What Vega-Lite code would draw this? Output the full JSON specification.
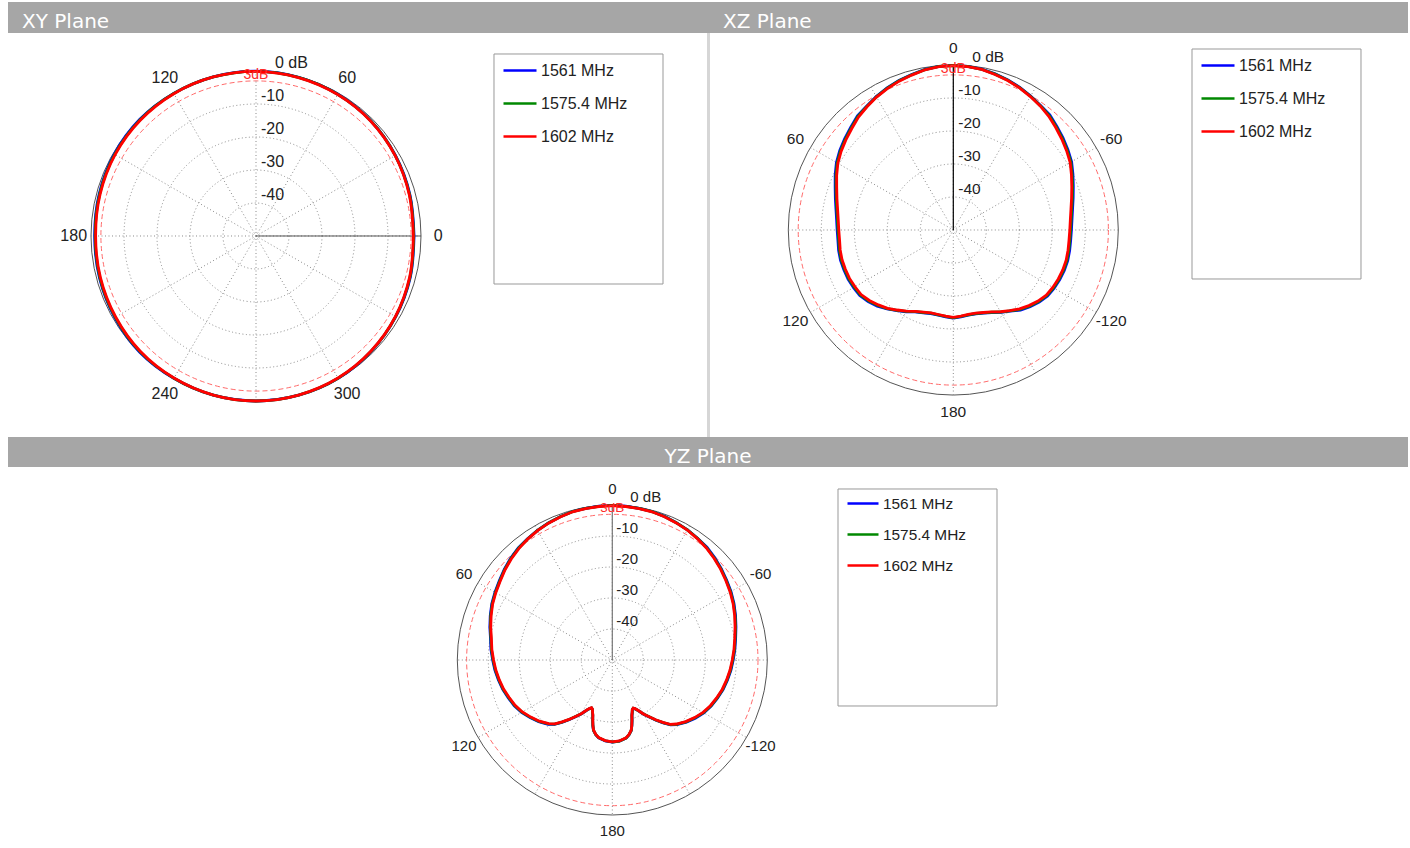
{
"$schema": "https://vega.github.io/schema/vega-lite/v6.json",
"background": "white",
"padding": {"left": 8, "top": 2, "right": 0, "bottom": 0},
"spacing": 0,
"config": {"view": {"stroke": null}, "font": "Liberation Sans"},
"resolve": {"scale": {"x": "independent", "y": "independent", "color": "independent", "size": "independent"}, "legend": {"color": "independent"}},
"datasets": {
"xy": [
{"deg":0,"r":-2.3,"g":-2.2,"b":-2.1},{"deg":15,"r":-1.9,"g":-1.8,"b":-1.7},{"deg":30,"r":-1.3,"g":-1.25,"b":-1.2},{"deg":45,"r":-0.8,"g":-0.75,"b":-0.7},{"deg":60,"r":-0.5,"g":-0.45,"b":-0.4},{"deg":75,"r":-0.3,"g":-0.25,"b":-0.2},{"deg":90,"r":-0.1,"g":-0.1,"b":-0.05},{"deg":105,"r":-0.1,"g":-0.1,"b":-0.05},{"deg":120,"r":-0.2,"g":-0.15,"b":-0.1},{"deg":135,"r":-0.4,"g":-0.25,"b":-0.1},{"deg":150,"r":-0.7,"g":-0.55,"b":-0.4},{"deg":165,"r":-1.1,"g":-0.95,"b":-0.8},{"deg":180,"r":-1.4,"g":-1.25,"b":-1.1},{"deg":195,"r":-1.2,"g":-1.05,"b":-0.9},{"deg":210,"r":-0.9,"g":-0.75,"b":-0.6},{"deg":225,"r":-0.5,"g":-0.35,"b":-0.2},{"deg":240,"r":-0.3,"g":-0.25,"b":-0.2},{"deg":255,"r":-0.1,"g":-0.1,"b":-0.05},{"deg":270,"r":0,"g":0,"b":0},{"deg":285,"r":-0.1,"g":-0.1,"b":-0.05},{"deg":300,"r":-0.3,"g":-0.25,"b":-0.2},{"deg":315,"r":-0.7,"g":-0.65,"b":-0.6},{"deg":330,"r":-1.2,"g":-1.15,"b":-1.1},{"deg":345,"r":-1.8,"g":-1.7,"b":-1.6},{"deg":360,"r":-2.3,"g":-2.2,"b":-2.1}
],
"xz": [
{"deg":-180,"r":-23.5,"g":-23.4,"b":-23.3},{"deg":-175,"r":-23.8,"g":-23.7,"b":-23.6},{"deg":-170,"r":-24.0,"g":-23.9,"b":-23.8},{"deg":-165,"r":-23.9,"g":-23.8,"b":-23.7},{"deg":-160,"r":-23.4,"g":-23.3,"b":-23.2},{"deg":-155,"r":-22.6,"g":-22.5,"b":-22.4},{"deg":-150,"r":-21.4,"g":-21.3,"b":-21.2},{"deg":-145,"r":-20.2,"g":-20.1,"b":-20.0},{"deg":-140,"r":-18.8,"g":-18.55,"b":-18.3},{"deg":-135,"r":-17.6,"g":-17.35,"b":-17.1},{"deg":-130,"r":-16.5,"g":-16.25,"b":-16.0},{"deg":-125,"r":-15.6,"g":-15.35,"b":-15.1},{"deg":-120,"r":-15.2,"g":-14.95,"b":-14.7},{"deg":-115,"r":-14.9,"g":-14.65,"b":-14.4},{"deg":-110,"r":-14.7,"g":-14.45,"b":-14.2},{"deg":-105,"r":-14.6,"g":-14.35,"b":-14.1},{"deg":-100,"r":-14.7,"g":-14.45,"b":-14.2},{"deg":-95,"r":-14.8,"g":-14.55,"b":-14.3},{"deg":-90,"r":-14.7,"g":-14.45,"b":-14.2},{"deg":-85,"r":-14.4,"g":-14.15,"b":-13.9},{"deg":-80,"r":-13.8,"g":-13.55,"b":-13.3},{"deg":-75,"r":-12.9,"g":-12.65,"b":-12.4},{"deg":-70,"r":-11.8,"g":-11.55,"b":-11.3},{"deg":-65,"r":-10.5,"g":-10.25,"b":-10.0},{"deg":-60,"r":-9.1,"g":-8.85,"b":-8.6},{"deg":-55,"r":-8.1,"g":-7.85,"b":-7.6},{"deg":-50,"r":-7.1,"g":-6.85,"b":-6.6},{"deg":-45,"r":-6.1,"g":-5.85,"b":-5.6},{"deg":-40,"r":-5.0,"g":-4.75,"b":-4.5},{"deg":-35,"r":-4.1,"g":-4.0,"b":-3.9},{"deg":-30,"r":-3.3,"g":-3.2,"b":-3.1},{"deg":-25,"r":-2.5,"g":-2.4,"b":-2.3},{"deg":-20,"r":-1.8,"g":-1.7,"b":-1.6},{"deg":-15,"r":-1.2,"g":-1.1,"b":-1.0},{"deg":-10,"r":-0.6,"g":-0.55,"b":-0.5},{"deg":-5,"r":-0.3,"g":-0.25,"b":-0.2},{"deg":0,"r":-0.2,"g":-0.15,"b":-0.1},{"deg":5,"r":-0.3,"g":-0.25,"b":-0.2},{"deg":10,"r":-0.7,"g":-0.65,"b":-0.6},{"deg":15,"r":-1.4,"g":-1.3,"b":-1.2},{"deg":20,"r":-2.0,"g":-1.9,"b":-1.8},{"deg":25,"r":-2.7,"g":-2.6,"b":-2.5},{"deg":30,"r":-3.5,"g":-3.4,"b":-3.3},{"deg":35,"r":-4.4,"g":-4.3,"b":-4.2},{"deg":40,"r":-5.3,"g":-5.05,"b":-4.8},{"deg":45,"r":-6.5,"g":-6.25,"b":-6.0},{"deg":50,"r":-7.5,"g":-7.25,"b":-7.0},{"deg":55,"r":-8.5,"g":-8.25,"b":-8.0},{"deg":60,"r":-9.6,"g":-9.35,"b":-9.1},{"deg":65,"r":-11.0,"g":-10.75,"b":-10.5},{"deg":70,"r":-12.4,"g":-12.15,"b":-11.9},{"deg":75,"r":-13.5,"g":-13.25,"b":-13.0},{"deg":80,"r":-14.4,"g":-14.15,"b":-13.9},{"deg":85,"r":-15.0,"g":-14.75,"b":-14.5},{"deg":90,"r":-15.3,"g":-15.05,"b":-14.8},{"deg":95,"r":-15.4,"g":-15.15,"b":-14.9},{"deg":100,"r":-15.2,"g":-14.95,"b":-14.7},{"deg":105,"r":-15.1,"g":-14.85,"b":-14.6},{"deg":110,"r":-15.2,"g":-14.95,"b":-14.7},{"deg":115,"r":-15.3,"g":-15.05,"b":-14.8},{"deg":120,"r":-15.6,"g":-15.35,"b":-15.1},{"deg":125,"r":-15.9,"g":-15.65,"b":-15.4},{"deg":130,"r":-16.8,"g":-16.55,"b":-16.3},{"deg":135,"r":-17.9,"g":-17.65,"b":-17.4},{"deg":140,"r":-19.0,"g":-18.9,"b":-18.8},{"deg":145,"r":-20.4,"g":-20.3,"b":-20.2},{"deg":150,"r":-21.6,"g":-21.5,"b":-21.4},{"deg":155,"r":-22.8,"g":-22.7,"b":-22.6},{"deg":160,"r":-23.5,"g":-23.4,"b":-23.3},{"deg":165,"r":-24.0,"g":-23.9,"b":-23.8},{"deg":170,"r":-24.0,"g":-23.9,"b":-23.8},{"deg":175,"r":-23.8,"g":-23.7,"b":-23.6},{"deg":180,"r":-23.5,"g":-23.4,"b":-23.3}
],
"yz": [
{"deg":-180,"r":-23.6,"g":-23.55,"b":-23.5},{"deg":-175,"r":-23.8,"g":-23.75,"b":-23.7},{"deg":-170,"r":-24.5,"g":-24.45,"b":-24.4},{"deg":-167.5,"r":-25.3,"g":-25.25,"b":-25.2},{"deg":-165,"r":-26.5,"g":-26.45,"b":-26.4},{"deg":-163.5,"r":-27.9,"g":-27.85,"b":-27.8},{"deg":-162,"r":-29.5,"g":-29.45,"b":-29.4},{"deg":-160.5,"r":-31.1,"g":-31.05,"b":-31.0},{"deg":-159,"r":-32.1,"g":-32.05,"b":-32.0},{"deg":-158,"r":-32.8,"g":-32.75,"b":-32.7},{"deg":-156.5,"r":-33.1,"g":-33.05,"b":-33.0},{"deg":-155,"r":-32.7,"g":-32.65,"b":-32.6},{"deg":-153,"r":-31.8,"g":-31.75,"b":-31.7},{"deg":-150,"r":-29.9,"g":-29.85,"b":-29.8},{"deg":-147,"r":-28.2,"g":-28.15,"b":-28.1},{"deg":-144,"r":-26.2,"g":-26.1,"b":-26.0},{"deg":-141,"r":-24.1,"g":-24.0,"b":-23.9},{"deg":-138,"r":-22.1,"g":-22.0,"b":-21.9},{"deg":-135,"r":-20.8,"g":-20.65,"b":-20.5},{"deg":-130,"r":-19.1,"g":-18.95,"b":-18.8},{"deg":-125,"r":-17.6,"g":-17.45,"b":-17.3},{"deg":-120,"r":-16.2,"g":-16.05,"b":-15.9},{"deg":-115,"r":-15.1,"g":-14.95,"b":-14.8},{"deg":-110,"r":-14.2,"g":-14.05,"b":-13.9},{"deg":-105,"r":-13.3,"g":-13.15,"b":-13.0},{"deg":-100,"r":-12.6,"g":-12.45,"b":-12.3},{"deg":-95,"r":-11.9,"g":-11.75,"b":-11.6},{"deg":-90,"r":-11.3,"g":-11.15,"b":-11.0},{"deg":-85,"r":-10.6,"g":-10.45,"b":-10.3},{"deg":-80,"r":-9.9,"g":-9.75,"b":-9.6},{"deg":-75,"r":-9.0,"g":-8.85,"b":-8.7},{"deg":-70,"r":-8.0,"g":-7.85,"b":-7.7},{"deg":-65,"r":-7.0,"g":-6.85,"b":-6.7},{"deg":-60,"r":-6.1,"g":-5.95,"b":-5.8},{"deg":-55,"r":-5.3,"g":-5.15,"b":-5.0},{"deg":-50,"r":-4.4,"g":-4.25,"b":-4.1},{"deg":-45,"r":-3.6,"g":-3.45,"b":-3.3},{"deg":-40,"r":-2.8,"g":-2.65,"b":-2.5},{"deg":-35,"r":-2.2,"g":-2.1,"b":-2.05},{"deg":-30,"r":-1.6,"g":-1.55,"b":-1.5},{"deg":-25,"r":-1.2,"g":-1.15,"b":-1.1},{"deg":-20,"r":-0.8,"g":-0.75,"b":-0.7},{"deg":-15,"r":-0.5,"g":-0.45,"b":-0.4},{"deg":-10,"r":-0.4,"g":-0.35,"b":-0.3},{"deg":-5,"r":-0.3,"g":-0.25,"b":-0.2},{"deg":0,"r":-0.2,"g":-0.15,"b":-0.1},{"deg":5,"r":-0.3,"g":-0.25,"b":-0.2},{"deg":10,"r":-0.4,"g":-0.35,"b":-0.3},{"deg":15,"r":-0.5,"g":-0.45,"b":-0.4},{"deg":20,"r":-0.9,"g":-0.85,"b":-0.8},{"deg":25,"r":-1.3,"g":-1.25,"b":-1.2},{"deg":30,"r":-1.8,"g":-1.75,"b":-1.7},{"deg":35,"r":-2.4,"g":-2.35,"b":-2.3},{"deg":40,"r":-3.1,"g":-2.95,"b":-2.8},{"deg":45,"r":-3.9,"g":-3.75,"b":-3.6},{"deg":50,"r":-4.8,"g":-4.65,"b":-4.5},{"deg":55,"r":-5.8,"g":-5.65,"b":-5.5},{"deg":60,"r":-6.6,"g":-6.45,"b":-6.3},{"deg":65,"r":-7.4,"g":-7.25,"b":-7.1},{"deg":70,"r":-8.4,"g":-8.25,"b":-8.1},{"deg":75,"r":-9.4,"g":-9.25,"b":-9.1},{"deg":80,"r":-10.4,"g":-10.25,"b":-10.1},{"deg":85,"r":-11.0,"g":-10.85,"b":-10.7},{"deg":90,"r":-11.7,"g":-11.55,"b":-11.4},{"deg":95,"r":-12.3,"g":-12.15,"b":-12.0},{"deg":100,"r":-13.0,"g":-12.85,"b":-12.7},{"deg":105,"r":-13.7,"g":-13.55,"b":-13.4},{"deg":110,"r":-14.6,"g":-14.45,"b":-14.3},{"deg":115,"r":-15.4,"g":-15.25,"b":-15.1},{"deg":120,"r":-16.5,"g":-16.35,"b":-16.2},{"deg":125,"r":-17.9,"g":-17.75,"b":-17.6},{"deg":130,"r":-19.3,"g":-19.15,"b":-19.0},{"deg":135,"r":-21.0,"g":-20.85,"b":-20.7},{"deg":138,"r":-22.3,"g":-22.2,"b":-22.1},{"deg":141,"r":-24.3,"g":-24.2,"b":-24.1},{"deg":144,"r":-26.3,"g":-26.25,"b":-26.2},{"deg":147,"r":-28.3,"g":-28.25,"b":-28.2},{"deg":150,"r":-30.0,"g":-29.95,"b":-29.9},{"deg":153,"r":-31.9,"g":-31.85,"b":-31.8},{"deg":155,"r":-32.8,"g":-32.75,"b":-32.7},{"deg":156.5,"r":-33.2,"g":-33.15,"b":-33.1},{"deg":158,"r":-32.9,"g":-32.85,"b":-32.8},{"deg":159,"r":-32.2,"g":-32.15,"b":-32.1},{"deg":160.5,"r":-31.2,"g":-31.15,"b":-31.1},{"deg":162,"r":-29.6,"g":-29.55,"b":-29.5},{"deg":163.5,"r":-28.0,"g":-27.95,"b":-27.9},{"deg":165,"r":-26.6,"g":-26.55,"b":-26.5},{"deg":167.5,"r":-25.4,"g":-25.35,"b":-25.3},{"deg":170,"r":-24.6,"g":-24.55,"b":-24.5},{"deg":175,"r":-23.9,"g":-23.85,"b":-23.8},{"deg":180,"r":-23.6,"g":-23.55,"b":-23.5}
],
"rings": [{"db": -40}, {"db": -30}, {"db": -20}, {"db": -10}],
"spokes": [{"deg": 0}, {"deg": 30}, {"deg": 60}, {"deg": 90}, {"deg": 120}, {"deg": 150}]
},
"vconcat": [
{
"hconcat": [
{"width": 699, "height": 31, "view": {"fill": "#a6a6a6", "stroke": null},
 "data": {"values": [{"t": "XY Plane"}]},
 "mark": {"type": "text", "align": "left", "baseline": "alphabetic", "dx": 14, "dy": 10, "font": "DejaVu Sans", "fontSize": 20, "color": "white"},
 "encoding": {"text": {"field": "t", "type": "nominal"}, "x": {"datum": 0, "type": "quantitative", "scale": {"domain": [0, 1]}, "axis": null}}},
{"width": 701, "height": 31, "view": {"fill": "#a6a6a6", "stroke": null},
 "data": {"values": [{"t": "XZ Plane"}]},
 "mark": {"type": "text", "align": "left", "baseline": "alphabetic", "dx": 16, "dy": 10, "font": "DejaVu Sans", "fontSize": 20, "color": "white"},
 "encoding": {"text": {"field": "t", "type": "nominal"}, "x": {"datum": 0, "type": "quantitative", "scale": {"domain": [0, 1]}, "axis": null}}}
],
"spacing": 0,
"resolve": {"scale": {"x": "independent", "y": "independent"}}
},
{
"hconcat": [
{
"width": 699, "height": 404,
"layer": [
{"data": {"name": "rings"},
 "transform": [{"calculate": "(datum.db+50)/50", "as": "lv"}],
 "mark": {"type": "point", "shape": "circle", "filled": false, "opacity": 1, "stroke": "#8a8a8a", "strokeWidth": 1, "strokeDash": [1, 2.5]},
 "encoding": {"x": {"datum": 0, "type": "quantitative", "scale": {"domain": [-1.50303, 2.73333], "nice": false, "zero": false}, "axis": null},
  "y": {"datum": 0, "type": "quantitative", "scale": {"domain": [-1.21818, 1.2303], "nice": false, "zero": false}, "axis": null},
  "size": {"field": "lv", "type": "quantitative", "scale": {"type": "pow", "exponent": 2, "domain": [0, 1], "range": [0, 108900]}, "legend": null}}},
{"data": {"values": [{"db": 0}]},
 "transform": [{"calculate": "(datum.db+50)/50", "as": "lv"}],
 "mark": {"type": "point", "shape": "circle", "filled": false, "opacity": 1, "stroke": "#555555", "strokeWidth": 1},
 "encoding": {"x": {"datum": 0, "type": "quantitative", "scale": {"domain": [-1.50303, 2.73333], "nice": false, "zero": false}, "axis": null},
  "y": {"datum": 0, "type": "quantitative", "scale": {"domain": [-1.21818, 1.2303], "nice": false, "zero": false}, "axis": null},
  "size": {"field": "lv", "type": "quantitative", "scale": {"type": "pow", "exponent": 2, "domain": [0, 1], "range": [0, 108900]}, "legend": null}}},
{"data": {"values": [{"db": -3}]},
 "transform": [{"calculate": "(datum.db+50)/50", "as": "lv"}],
 "mark": {"type": "point", "shape": "circle", "filled": false, "opacity": 1, "stroke": "#ff6a6a", "strokeWidth": 1, "strokeDash": [5, 3]},
 "encoding": {"x": {"datum": 0, "type": "quantitative", "scale": {"domain": [-1.50303, 2.73333], "nice": false, "zero": false}, "axis": null},
  "y": {"datum": 0, "type": "quantitative", "scale": {"domain": [-1.21818, 1.2303], "nice": false, "zero": false}, "axis": null},
  "size": {"field": "lv", "type": "quantitative", "scale": {"type": "pow", "exponent": 2, "domain": [0, 1], "range": [0, 108900]}, "legend": null}}},
{"data": {"name": "spokes"},
 "transform": [{"calculate": "cos(datum.deg*PI/180)", "as": "ex"}, {"calculate": "sin(datum.deg*PI/180)", "as": "ey"}, {"calculate": "-datum.ex", "as": "nx"}, {"calculate": "-datum.ey", "as": "ny"}],
 "mark": {"type": "rule", "stroke": "#8a8a8a", "strokeWidth": 1, "strokeDash": [1, 2.5]},
 "encoding": {"x": {"field": "ex", "type": "quantitative", "scale": {"domain": [-1.50303, 2.73333], "nice": false, "zero": false}, "axis": null},
  "y": {"field": "ey", "type": "quantitative", "scale": {"domain": [-1.21818, 1.2303], "nice": false, "zero": false}, "axis": null},
  "x2": {"field": "nx"}, "y2": {"field": "ny"}}},
{"data": {"values": [{"x0": 0, "x1": 1, "y0": 0}]},
 "mark": {"type": "rule", "stroke": "#555555", "strokeWidth": 1},
 "encoding": {"x": {"field": "x0", "type": "quantitative", "scale": {"domain": [-1.50303, 2.73333], "nice": false, "zero": false}, "axis": null},
  "x2": {"field": "x1"},
  "y": {"field": "y0", "type": "quantitative", "scale": {"domain": [-1.21818, 1.2303], "nice": false, "zero": false}, "axis": null}}},
{"data": {"values": [{"x0": 1.44242, "x1": 2.46667, "y0": 1.10303, "y1": -0.29091}]},
 "mark": {"type": "rect", "fill": "white", "stroke": "#999999", "strokeWidth": 1},
 "encoding": {"x": {"field": "x0", "type": "quantitative", "scale": {"domain": [-1.50303, 2.73333], "nice": false, "zero": false}, "axis": null},
  "x2": {"field": "x1"},
  "y": {"field": "y0", "type": "quantitative", "scale": {"domain": [-1.21818, 1.2303], "nice": false, "zero": false}, "axis": null},
  "y2": {"field": "y1"}}},
{"data": {"name": "xy"},
 "transform": [{"fold": ["b", "g", "r"], "as": ["freq", "db"]},
  {"calculate": "max(0,(datum.db+50)/50)", "as": "rr"},
  {"calculate": "datum.rr*cos(datum.deg*PI/180)", "as": "px"},
  {"calculate": "datum.rr*sin(datum.deg*PI/180)", "as": "py"}],
 "mark": {"type": "line", "strokeWidth": 2.8, "interpolate": "catmull-rom"},
 "encoding": {"x": {"field": "px", "type": "quantitative", "scale": {"domain": [-1.50303, 2.73333], "nice": false, "zero": false}, "axis": null},
  "y": {"field": "py", "type": "quantitative", "scale": {"domain": [-1.21818, 1.2303], "nice": false, "zero": false}, "axis": null},
  "order": {"field": "deg", "type": "quantitative"},
  "color": {"field": "freq", "type": "nominal", "scale": {"domain": ["b", "g", "r"], "range": ["#0000ff", "#008800", "#ff0000"]},
   "legend": {"orient": "none", "legendX": 494, "legendY": 19.5, "title": null, "symbolType": "stroke", "symbolSize": 1089, "symbolStrokeWidth": 2.5, "labelFontSize": 16, "labelFont": "Liberation Sans", "labelColor": "#222222", "rowPadding": 7, "labelOffset": 3, "padding": 0,
    "labelExpr": "datum.label == 'b' ? '1561 MHz' : datum.label == 'g' ? '1575.4 MHz' : '1602 MHz'"}}}},
{"data": {"values": [{"deg": 0, "t": "0"}, {"deg": 60, "t": "60"}, {"deg": 120, "t": "120"}, {"deg": 180, "t": "180"}, {"deg": 240, "t": "240"}, {"deg": 300, "t": "300"}]},
 "transform": [{"calculate": "1.105*cos(datum.deg*PI/180)", "as": "lx"}, {"calculate": "1.105*sin(datum.deg*PI/180)", "as": "ly"}],
 "mark": {"type": "text", "fontSize": 16, "color": "#222222", "align": "center", "baseline": "middle"},
 "encoding": {"x": {"field": "lx", "type": "quantitative", "scale": {"domain": [-1.50303, 2.73333], "nice": false, "zero": false}, "axis": null},
  "y": {"field": "ly", "type": "quantitative", "scale": {"domain": [-1.21818, 1.2303], "nice": false, "zero": false}, "axis": null},
  "text": {"field": "t", "type": "nominal"}}},
{"data": {"values": [{"db": -10, "t": "-10"}, {"db": -20, "t": "-20"}, {"db": -30, "t": "-30"}, {"db": -40, "t": "-40"}]},
 "transform": [{"calculate": "(datum.db+50)/50", "as": "ry"}, {"calculate": "0", "as": "cx"}],
 "mark": {"type": "text", "fontSize": 16, "color": "#222222", "align": "left", "baseline": "bottom", "dx": 5},
 "encoding": {"x": {"field": "cx", "type": "quantitative", "scale": {"domain": [-1.50303, 2.73333], "nice": false, "zero": false}, "axis": null},
  "y": {"field": "ry", "type": "quantitative", "scale": {"domain": [-1.21818, 1.2303], "nice": false, "zero": false}, "axis": null},
  "text": {"field": "t", "type": "nominal"}}},
{"data": {"values": [{"db": 0, "t": "0 dB"}]},
 "transform": [{"calculate": "(datum.db+50)/50", "as": "ry"}, {"calculate": "0", "as": "cx"}],
 "mark": {"type": "text", "fontSize": 16, "color": "#222222", "align": "left", "baseline": "bottom", "dx": 19},
 "encoding": {"x": {"field": "cx", "type": "quantitative", "scale": {"domain": [-1.50303, 2.73333], "nice": false, "zero": false}, "axis": null},
  "y": {"field": "ry", "type": "quantitative", "scale": {"domain": [-1.21818, 1.2303], "nice": false, "zero": false}, "axis": null},
  "text": {"field": "t", "type": "nominal"}}},
{"data": {"values": [{"db": -3, "t": "3dB"}]},
 "transform": [{"calculate": "(datum.db+50)/50", "as": "ry"}, {"calculate": "0", "as": "cx"}],
 "mark": {"type": "text", "fontSize": 14, "color": "#ff2a2a", "align": "center", "baseline": "bottom", "dy": 1},
 "encoding": {"x": {"field": "cx", "type": "quantitative", "scale": {"domain": [-1.50303, 2.73333], "nice": false, "zero": false}, "axis": null},
  "y": {"field": "ry", "type": "quantitative", "scale": {"domain": [-1.21818, 1.2303], "nice": false, "zero": false}, "axis": null},
  "text": {"field": "t", "type": "nominal"}}}
]
},
{"width": 3, "height": 404, "view": {"fill": "#d6d6d6", "stroke": null},
 "data": {"values": [{"t": ""}]}, "mark": {"type": "text", "opacity": 0}, "encoding": {"text": {"field": "t", "type": "nominal"}}},
{
"width": 698, "height": 404,
"layer": [
{"data": {"name": "rings"},
 "transform": [{"calculate": "(datum.db+50)/50", "as": "lv"}],
 "mark": {"type": "point", "shape": "circle", "filled": false, "opacity": 1, "stroke": "#8a8a8a", "strokeWidth": 1, "strokeDash": [1, 2.5]},
 "encoding": {"x": {"datum": 0, "type": "quantitative", "scale": {"domain": [-1.47455, 2.75576], "nice": false, "zero": false}, "axis": null},
  "y": {"datum": 0, "type": "quantitative", "scale": {"domain": [-1.25455, 1.19394], "nice": false, "zero": false}, "axis": null},
  "size": {"field": "lv", "type": "quantitative", "scale": {"type": "pow", "exponent": 2, "domain": [0, 1], "range": [0, 108900]}, "legend": null}}},
{"data": {"values": [{"db": 0}]},
 "transform": [{"calculate": "(datum.db+50)/50", "as": "lv"}],
 "mark": {"type": "point", "shape": "circle", "filled": false, "opacity": 1, "stroke": "#555555", "strokeWidth": 1},
 "encoding": {"x": {"datum": 0, "type": "quantitative", "scale": {"domain": [-1.47455, 2.75576], "nice": false, "zero": false}, "axis": null},
  "y": {"datum": 0, "type": "quantitative", "scale": {"domain": [-1.25455, 1.19394], "nice": false, "zero": false}, "axis": null},
  "size": {"field": "lv", "type": "quantitative", "scale": {"type": "pow", "exponent": 2, "domain": [0, 1], "range": [0, 108900]}, "legend": null}}},
{"data": {"values": [{"db": -3}]},
 "transform": [{"calculate": "(datum.db+50)/50", "as": "lv"}],
 "mark": {"type": "point", "shape": "circle", "filled": false, "opacity": 1, "stroke": "#ff6a6a", "strokeWidth": 1, "strokeDash": [5, 3]},
 "encoding": {"x": {"datum": 0, "type": "quantitative", "scale": {"domain": [-1.47455, 2.75576], "nice": false, "zero": false}, "axis": null},
  "y": {"datum": 0, "type": "quantitative", "scale": {"domain": [-1.25455, 1.19394], "nice": false, "zero": false}, "axis": null},
  "size": {"field": "lv", "type": "quantitative", "scale": {"type": "pow", "exponent": 2, "domain": [0, 1], "range": [0, 108900]}, "legend": null}}},
{"data": {"name": "spokes"},
 "transform": [{"calculate": "cos(datum.deg*PI/180)", "as": "ex"}, {"calculate": "sin(datum.deg*PI/180)", "as": "ey"}, {"calculate": "-datum.ex", "as": "nx"}, {"calculate": "-datum.ey", "as": "ny"}],
 "mark": {"type": "rule", "stroke": "#8a8a8a", "strokeWidth": 1, "strokeDash": [1, 2.5]},
 "encoding": {"x": {"field": "ex", "type": "quantitative", "scale": {"domain": [-1.47455, 2.75576], "nice": false, "zero": false}, "axis": null},
  "y": {"field": "ey", "type": "quantitative", "scale": {"domain": [-1.25455, 1.19394], "nice": false, "zero": false}, "axis": null},
  "x2": {"field": "nx"}, "y2": {"field": "ny"}}},
{"data": {"values": [{"x0": 0, "y0": 0, "y1": 1}]},
 "mark": {"type": "rule", "stroke": "#000000", "strokeWidth": 1.2},
 "encoding": {"x": {"field": "x0", "type": "quantitative", "scale": {"domain": [-1.47455, 2.75576], "nice": false, "zero": false}, "axis": null},
  "y": {"field": "y0", "type": "quantitative", "scale": {"domain": [-1.25455, 1.19394], "nice": false, "zero": false}, "axis": null},
  "y2": {"field": "y1"}}},
{"data": {"values": [{"x0": 1.44667, "x1": 2.47091, "y0": 1.09697, "y1": -0.29697}]},
 "mark": {"type": "rect", "fill": "white", "stroke": "#999999", "strokeWidth": 1},
 "encoding": {"x": {"field": "x0", "type": "quantitative", "scale": {"domain": [-1.47455, 2.75576], "nice": false, "zero": false}, "axis": null},
  "x2": {"field": "x1"},
  "y": {"field": "y0", "type": "quantitative", "scale": {"domain": [-1.25455, 1.19394], "nice": false, "zero": false}, "axis": null},
  "y2": {"field": "y1"}}},
{"data": {"name": "xz"},
 "transform": [{"fold": ["b", "g", "r"], "as": ["freq", "db"]},
  {"calculate": "max(0,(datum.db+50)/50)", "as": "rr"},
  {"calculate": "-datum.rr*sin(datum.deg*PI/180)", "as": "px"},
  {"calculate": "datum.rr*cos(datum.deg*PI/180)", "as": "py"}],
 "mark": {"type": "line", "strokeWidth": 2.8},
 "encoding": {"x": {"field": "px", "type": "quantitative", "scale": {"domain": [-1.47455, 2.75576], "nice": false, "zero": false}, "axis": null},
  "y": {"field": "py", "type": "quantitative", "scale": {"domain": [-1.25455, 1.19394], "nice": false, "zero": false}, "axis": null},
  "order": {"field": "deg", "type": "quantitative"},
  "color": {"field": "freq", "type": "nominal", "scale": {"domain": ["b", "g", "r"], "range": ["#0000ff", "#008800", "#ff0000"]},
   "legend": {"orient": "none", "legendX": 490, "legendY": 14.5, "title": null, "symbolType": "stroke", "symbolSize": 1089, "symbolStrokeWidth": 2.5, "labelFontSize": 16, "labelFont": "Liberation Sans", "labelColor": "#222222", "rowPadding": 7, "labelOffset": 3, "padding": 0,
    "labelExpr": "datum.label == 'b' ? '1561 MHz' : datum.label == 'g' ? '1575.4 MHz' : '1602 MHz'"}}}},
{"data": {"values": [{"deg": 0, "t": "0"}, {"deg": 60, "t": "60"}, {"deg": 120, "t": "120"}, {"deg": 180, "t": "180"}, {"deg": -120, "t": "-120"}, {"deg": -60, "t": "-60"}]},
 "transform": [{"calculate": "-1.105*sin(datum.deg*PI/180)", "as": "lx"}, {"calculate": "1.105*cos(datum.deg*PI/180)", "as": "ly"}],
 "mark": {"type": "text", "fontSize": 15.5, "color": "#222222", "align": "center", "baseline": "middle"},
 "encoding": {"x": {"field": "lx", "type": "quantitative", "scale": {"domain": [-1.47455, 2.75576], "nice": false, "zero": false}, "axis": null},
  "y": {"field": "ly", "type": "quantitative", "scale": {"domain": [-1.25455, 1.19394], "nice": false, "zero": false}, "axis": null},
  "text": {"field": "t", "type": "nominal"}}},
{"data": {"values": [{"db": -10, "t": "-10"}, {"db": -20, "t": "-20"}, {"db": -30, "t": "-30"}, {"db": -40, "t": "-40"}]},
 "transform": [{"calculate": "(datum.db+50)/50", "as": "ry"}, {"calculate": "0", "as": "cx"}],
 "mark": {"type": "text", "fontSize": 15.5, "color": "#222222", "align": "left", "baseline": "bottom", "dx": 5},
 "encoding": {"x": {"field": "cx", "type": "quantitative", "scale": {"domain": [-1.47455, 2.75576], "nice": false, "zero": false}, "axis": null},
  "y": {"field": "ry", "type": "quantitative", "scale": {"domain": [-1.25455, 1.19394], "nice": false, "zero": false}, "axis": null},
  "text": {"field": "t", "type": "nominal"}}},
{"data": {"values": [{"db": 0, "t": "0 dB"}]},
 "transform": [{"calculate": "(datum.db+50)/50", "as": "ry"}, {"calculate": "0", "as": "cx"}],
 "mark": {"type": "text", "fontSize": 15.5, "color": "#222222", "align": "left", "baseline": "bottom", "dx": 19},
 "encoding": {"x": {"field": "cx", "type": "quantitative", "scale": {"domain": [-1.47455, 2.75576], "nice": false, "zero": false}, "axis": null},
  "y": {"field": "ry", "type": "quantitative", "scale": {"domain": [-1.25455, 1.19394], "nice": false, "zero": false}, "axis": null},
  "text": {"field": "t", "type": "nominal"}}},
{"data": {"values": [{"db": -3, "t": "3dB"}]},
 "transform": [{"calculate": "(datum.db+50)/50", "as": "ry"}, {"calculate": "0", "as": "cx"}],
 "mark": {"type": "text", "fontSize": 14, "color": "#ff2a2a", "align": "center", "baseline": "bottom", "dy": 1},
 "encoding": {"x": {"field": "cx", "type": "quantitative", "scale": {"domain": [-1.47455, 2.75576], "nice": false, "zero": false}, "axis": null},
  "y": {"field": "ry", "type": "quantitative", "scale": {"domain": [-1.25455, 1.19394], "nice": false, "zero": false}, "axis": null},
  "text": {"field": "t", "type": "nominal"}}}
]
}
],
"spacing": 0,
"resolve": {"scale": {"x": "independent", "y": "independent", "color": "independent", "size": "independent"}, "legend": {"color": "independent"}}
},
{"width": 1400, "height": 30, "view": {"fill": "#a6a6a6", "stroke": null},
 "data": {"values": [{"t": "YZ Plane"}]},
 "mark": {"type": "text", "align": "center", "baseline": "alphabetic", "dy": 11, "font": "DejaVu Sans", "fontSize": 20, "color": "white"},
 "encoding": {"text": {"field": "t", "type": "nominal"}}},
{
"width": 1400, "height": 381,
"layer": [
{"data": {"name": "rings"},
 "transform": [{"calculate": "(datum.db+50)/50", "as": "lv"}],
 "mark": {"type": "point", "shape": "circle", "filled": false, "opacity": 1, "stroke": "#8a8a8a", "strokeWidth": 1, "strokeDash": [1, 2.5]},
 "encoding": {"x": {"datum": 0, "type": "quantitative", "scale": {"domain": [-3.89871, 5.13355], "nice": false, "zero": false}, "axis": null},
  "y": {"datum": 0, "type": "quantitative", "scale": {"domain": [-1.2129, 1.24516], "nice": false, "zero": false}, "axis": null},
  "size": {"field": "lv", "type": "quantitative", "scale": {"type": "pow", "exponent": 2, "domain": [0, 1], "range": [0, 96100]}, "legend": null}}},
{"data": {"values": [{"db": 0}]},
 "transform": [{"calculate": "(datum.db+50)/50", "as": "lv"}],
 "mark": {"type": "point", "shape": "circle", "filled": false, "opacity": 1, "stroke": "#555555", "strokeWidth": 1},
 "encoding": {"x": {"datum": 0, "type": "quantitative", "scale": {"domain": [-3.89871, 5.13355], "nice": false, "zero": false}, "axis": null},
  "y": {"datum": 0, "type": "quantitative", "scale": {"domain": [-1.2129, 1.24516], "nice": false, "zero": false}, "axis": null},
  "size": {"field": "lv", "type": "quantitative", "scale": {"type": "pow", "exponent": 2, "domain": [0, 1], "range": [0, 96100]}, "legend": null}}},
{"data": {"values": [{"db": -3}]},
 "transform": [{"calculate": "(datum.db+50)/50", "as": "lv"}],
 "mark": {"type": "point", "shape": "circle", "filled": false, "opacity": 1, "stroke": "#ff6a6a", "strokeWidth": 1, "strokeDash": [5, 3]},
 "encoding": {"x": {"datum": 0, "type": "quantitative", "scale": {"domain": [-3.89871, 5.13355], "nice": false, "zero": false}, "axis": null},
  "y": {"datum": 0, "type": "quantitative", "scale": {"domain": [-1.2129, 1.24516], "nice": false, "zero": false}, "axis": null},
  "size": {"field": "lv", "type": "quantitative", "scale": {"type": "pow", "exponent": 2, "domain": [0, 1], "range": [0, 96100]}, "legend": null}}},
{"data": {"name": "spokes"},
 "transform": [{"calculate": "cos(datum.deg*PI/180)", "as": "ex"}, {"calculate": "sin(datum.deg*PI/180)", "as": "ey"}, {"calculate": "-datum.ex", "as": "nx"}, {"calculate": "-datum.ey", "as": "ny"}],
 "mark": {"type": "rule", "stroke": "#8a8a8a", "strokeWidth": 1, "strokeDash": [1, 2.5]},
 "encoding": {"x": {"field": "ex", "type": "quantitative", "scale": {"domain": [-3.89871, 5.13355], "nice": false, "zero": false}, "axis": null},
  "y": {"field": "ey", "type": "quantitative", "scale": {"domain": [-1.2129, 1.24516], "nice": false, "zero": false}, "axis": null},
  "x2": {"field": "nx"}, "y2": {"field": "ny"}}},
{"data": {"values": [{"x0": 0, "y0": 0, "y1": 1}]},
 "mark": {"type": "rule", "stroke": "#777777", "strokeWidth": 1.2},
 "encoding": {"x": {"field": "x0", "type": "quantitative", "scale": {"domain": [-3.89871, 5.13355], "nice": false, "zero": false}, "axis": null},
  "y": {"field": "y0", "type": "quantitative", "scale": {"domain": [-1.2129, 1.24516], "nice": false, "zero": false}, "axis": null},
  "y2": {"field": "y1"}}},
{"data": {"values": [{"x0": 1.45613, "x1": 2.48194, "y0": 1.10323, "y1": -0.29677}]},
 "mark": {"type": "rect", "fill": "white", "stroke": "#999999", "strokeWidth": 1},
 "encoding": {"x": {"field": "x0", "type": "quantitative", "scale": {"domain": [-3.89871, 5.13355], "nice": false, "zero": false}, "axis": null},
  "x2": {"field": "x1"},
  "y": {"field": "y0", "type": "quantitative", "scale": {"domain": [-1.2129, 1.24516], "nice": false, "zero": false}, "axis": null},
  "y2": {"field": "y1"}}},
{"data": {"name": "yz"},
 "transform": [{"fold": ["b", "g", "r"], "as": ["freq", "db"]},
  {"calculate": "max(0,(datum.db+50)/50)", "as": "rr"},
  {"calculate": "-datum.rr*sin(datum.deg*PI/180)", "as": "px"},
  {"calculate": "datum.rr*cos(datum.deg*PI/180)", "as": "py"}],
 "mark": {"type": "line", "strokeWidth": 2.8},
 "encoding": {"x": {"field": "px", "type": "quantitative", "scale": {"domain": [-3.89871, 5.13355], "nice": false, "zero": false}, "axis": null},
  "y": {"field": "py", "type": "quantitative", "scale": {"domain": [-1.2129, 1.24516], "nice": false, "zero": false}, "axis": null},
  "order": {"field": "deg", "type": "quantitative"},
  "color": {"field": "freq", "type": "nominal", "scale": {"domain": ["b", "g", "r"], "range": ["#0000ff", "#008800", "#ff0000"]},
   "legend": {"orient": "none", "legendX": 838, "legendY": 19.5, "title": null, "symbolType": "stroke", "symbolSize": 961, "symbolStrokeWidth": 2.5, "labelFontSize": 15.4, "labelFont": "Liberation Sans", "labelColor": "#222222", "rowPadding": 5, "labelOffset": 3, "padding": 0,
    "labelExpr": "datum.label == 'b' ? '1561 MHz' : datum.label == 'g' ? '1575.4 MHz' : '1602 MHz'"}}}},
{"data": {"values": [{"deg": 0, "t": "0"}, {"deg": 60, "t": "60"}, {"deg": 120, "t": "120"}, {"deg": 180, "t": "180"}, {"deg": -120, "t": "-120"}, {"deg": -60, "t": "-60"}]},
 "transform": [{"calculate": "-1.105*sin(datum.deg*PI/180)", "as": "lx"}, {"calculate": "1.105*cos(datum.deg*PI/180)", "as": "ly"}],
 "mark": {"type": "text", "fontSize": 15, "color": "#222222", "align": "center", "baseline": "middle"},
 "encoding": {"x": {"field": "lx", "type": "quantitative", "scale": {"domain": [-3.89871, 5.13355], "nice": false, "zero": false}, "axis": null},
  "y": {"field": "ly", "type": "quantitative", "scale": {"domain": [-1.2129, 1.24516], "nice": false, "zero": false}, "axis": null},
  "text": {"field": "t", "type": "nominal"}}},
{"data": {"values": [{"db": -10, "t": "-10"}, {"db": -20, "t": "-20"}, {"db": -30, "t": "-30"}, {"db": -40, "t": "-40"}]},
 "transform": [{"calculate": "(datum.db+50)/50", "as": "ry"}, {"calculate": "0", "as": "cx"}],
 "mark": {"type": "text", "fontSize": 15, "color": "#222222", "align": "left", "baseline": "bottom", "dx": 4},
 "encoding": {"x": {"field": "cx", "type": "quantitative", "scale": {"domain": [-3.89871, 5.13355], "nice": false, "zero": false}, "axis": null},
  "y": {"field": "ry", "type": "quantitative", "scale": {"domain": [-1.2129, 1.24516], "nice": false, "zero": false}, "axis": null},
  "text": {"field": "t", "type": "nominal"}}},
{"data": {"values": [{"db": 0, "t": "0 dB"}]},
 "transform": [{"calculate": "(datum.db+50)/50", "as": "ry"}, {"calculate": "0", "as": "cx"}],
 "mark": {"type": "text", "fontSize": 15, "color": "#222222", "align": "left", "baseline": "bottom", "dx": 18},
 "encoding": {"x": {"field": "cx", "type": "quantitative", "scale": {"domain": [-3.89871, 5.13355], "nice": false, "zero": false}, "axis": null},
  "y": {"field": "ry", "type": "quantitative", "scale": {"domain": [-1.2129, 1.24516], "nice": false, "zero": false}, "axis": null},
  "text": {"field": "t", "type": "nominal"}}},
{"data": {"values": [{"db": -3, "t": "3dB"}]},
 "transform": [{"calculate": "(datum.db+50)/50", "as": "ry"}, {"calculate": "0", "as": "cx"}],
 "mark": {"type": "text", "fontSize": 13.5, "color": "#ff2a2a", "align": "center", "baseline": "bottom", "dy": 1},
 "encoding": {"x": {"field": "cx", "type": "quantitative", "scale": {"domain": [-3.89871, 5.13355], "nice": false, "zero": false}, "axis": null},
  "y": {"field": "ry", "type": "quantitative", "scale": {"domain": [-1.2129, 1.24516], "nice": false, "zero": false}, "axis": null},
  "text": {"field": "t", "type": "nominal"}}}
]
}
]
}
